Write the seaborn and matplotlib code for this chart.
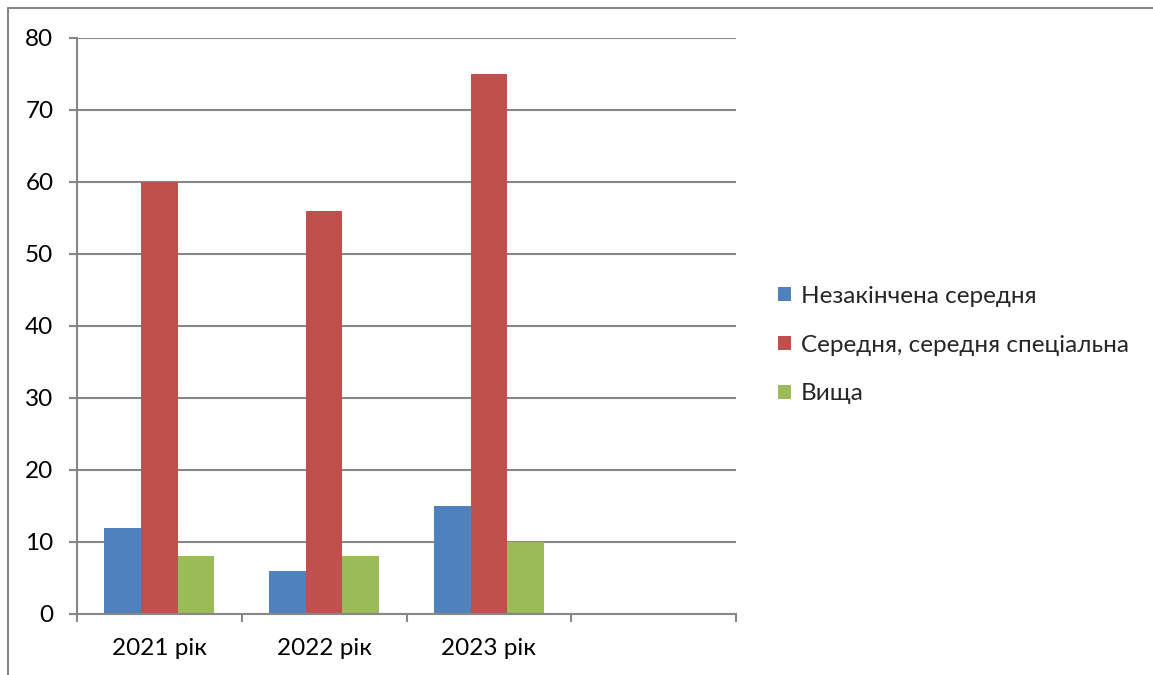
import matplotlib
matplotlib.use("Agg")
import matplotlib.pyplot as plt
from matplotlib.lines import Line2D
import pandas as pd
import seaborn as sns

# Data
years = ["2021 рік", "2022 рік", "2023 рік"]
series_names = ["Незакінчена середня", "Середня, середня спеціальна", "Вища"]
incomplete_secondary = [12, 6, 15]
secondary = [60, 56, 75]
higher = [8, 8, 10]
y_ticks = [0, 10, 20, 30, 40, 50, 60, 70, 80]

colors = ["#4F81BD", "#C0504D", "#9BBB59"]
grey = "#878787"

rows = []
for name, vals in zip(series_names, [incomplete_secondary, secondary, higher]):
    for yr, v in zip(years, vals):
        rows.append({"year": yr, "series": name, "value": v})
df = pd.DataFrame(rows)

sns.set_theme(style="white")
plt.rcParams["font.family"] = ["Lato", "DejaVu Sans"]

fig = plt.figure(figsize=(11.53, 6.75), dpi=100)
ax = fig.add_axes([77 / 1153, 1 - 614 / 675, (736 - 77) / 1153, (614 - 38) / 675])

# 4th empty category like in the original Excel chart
order = years + [" "]
sns.barplot(
    data=df, x="year", y="value", hue="series", order=order,
    hue_order=series_names, palette=colors, width=0.667, gap=0,
    saturation=1, ax=ax, errorbar=None, edgecolor="none",
)

ax.set_ylim(0, 80)
ax.set_xlim(-0.5, 3.5)
ax.set_yticks(y_ticks)
ax.set_xlabel("")
ax.set_ylabel("")
ax.yaxis.grid(True, color=grey, linewidth=1.5)
ax.set_axisbelow(True)

for side in ["top", "right"]:
    ax.spines[side].set_visible(False)
for side in ["left", "bottom"]:
    ax.spines[side].set_color(grey)
    ax.spines[side].set_linewidth(1.5)

ax.tick_params(axis="y", length=6, width=1.5, color=grey, pad=11,
               labelsize=17.5, labelcolor="black", left=True)
ax.set_xticks([-0.5, 0.5, 1.5, 2.5, 3.5], minor=True)
ax.tick_params(axis="x", which="minor", length=6, width=1.5, color=grey,
               bottom=True)
ax.tick_params(axis="x", which="major", length=0, pad=17, labelsize=17.5,
               labelcolor="black")

ax.legend(
    loc="center left", bbox_to_anchor=(778 / 1153, 1 - 345 / 675),
    bbox_transform=fig.transFigure, frameon=False, fontsize=17.5,
    handlelength=0.55, handleheight=0.55, handletextpad=0.4, labelspacing=1.15,
    borderaxespad=0, borderpad=0,
)

# outer chart frame (only top and left edges visible)
fig.add_artist(Line2D([8 / 1153, 8 / 1153], [0, 1 - 8 / 675],
                      transform=fig.transFigure, color=grey, linewidth=1.5))
fig.add_artist(Line2D([8 / 1153, 1], [1 - 8 / 675, 1 - 8 / 675],
                      transform=fig.transFigure, color=grey, linewidth=1.5))

fig.savefig("out.png", dpi=100)
plt.close(fig)
